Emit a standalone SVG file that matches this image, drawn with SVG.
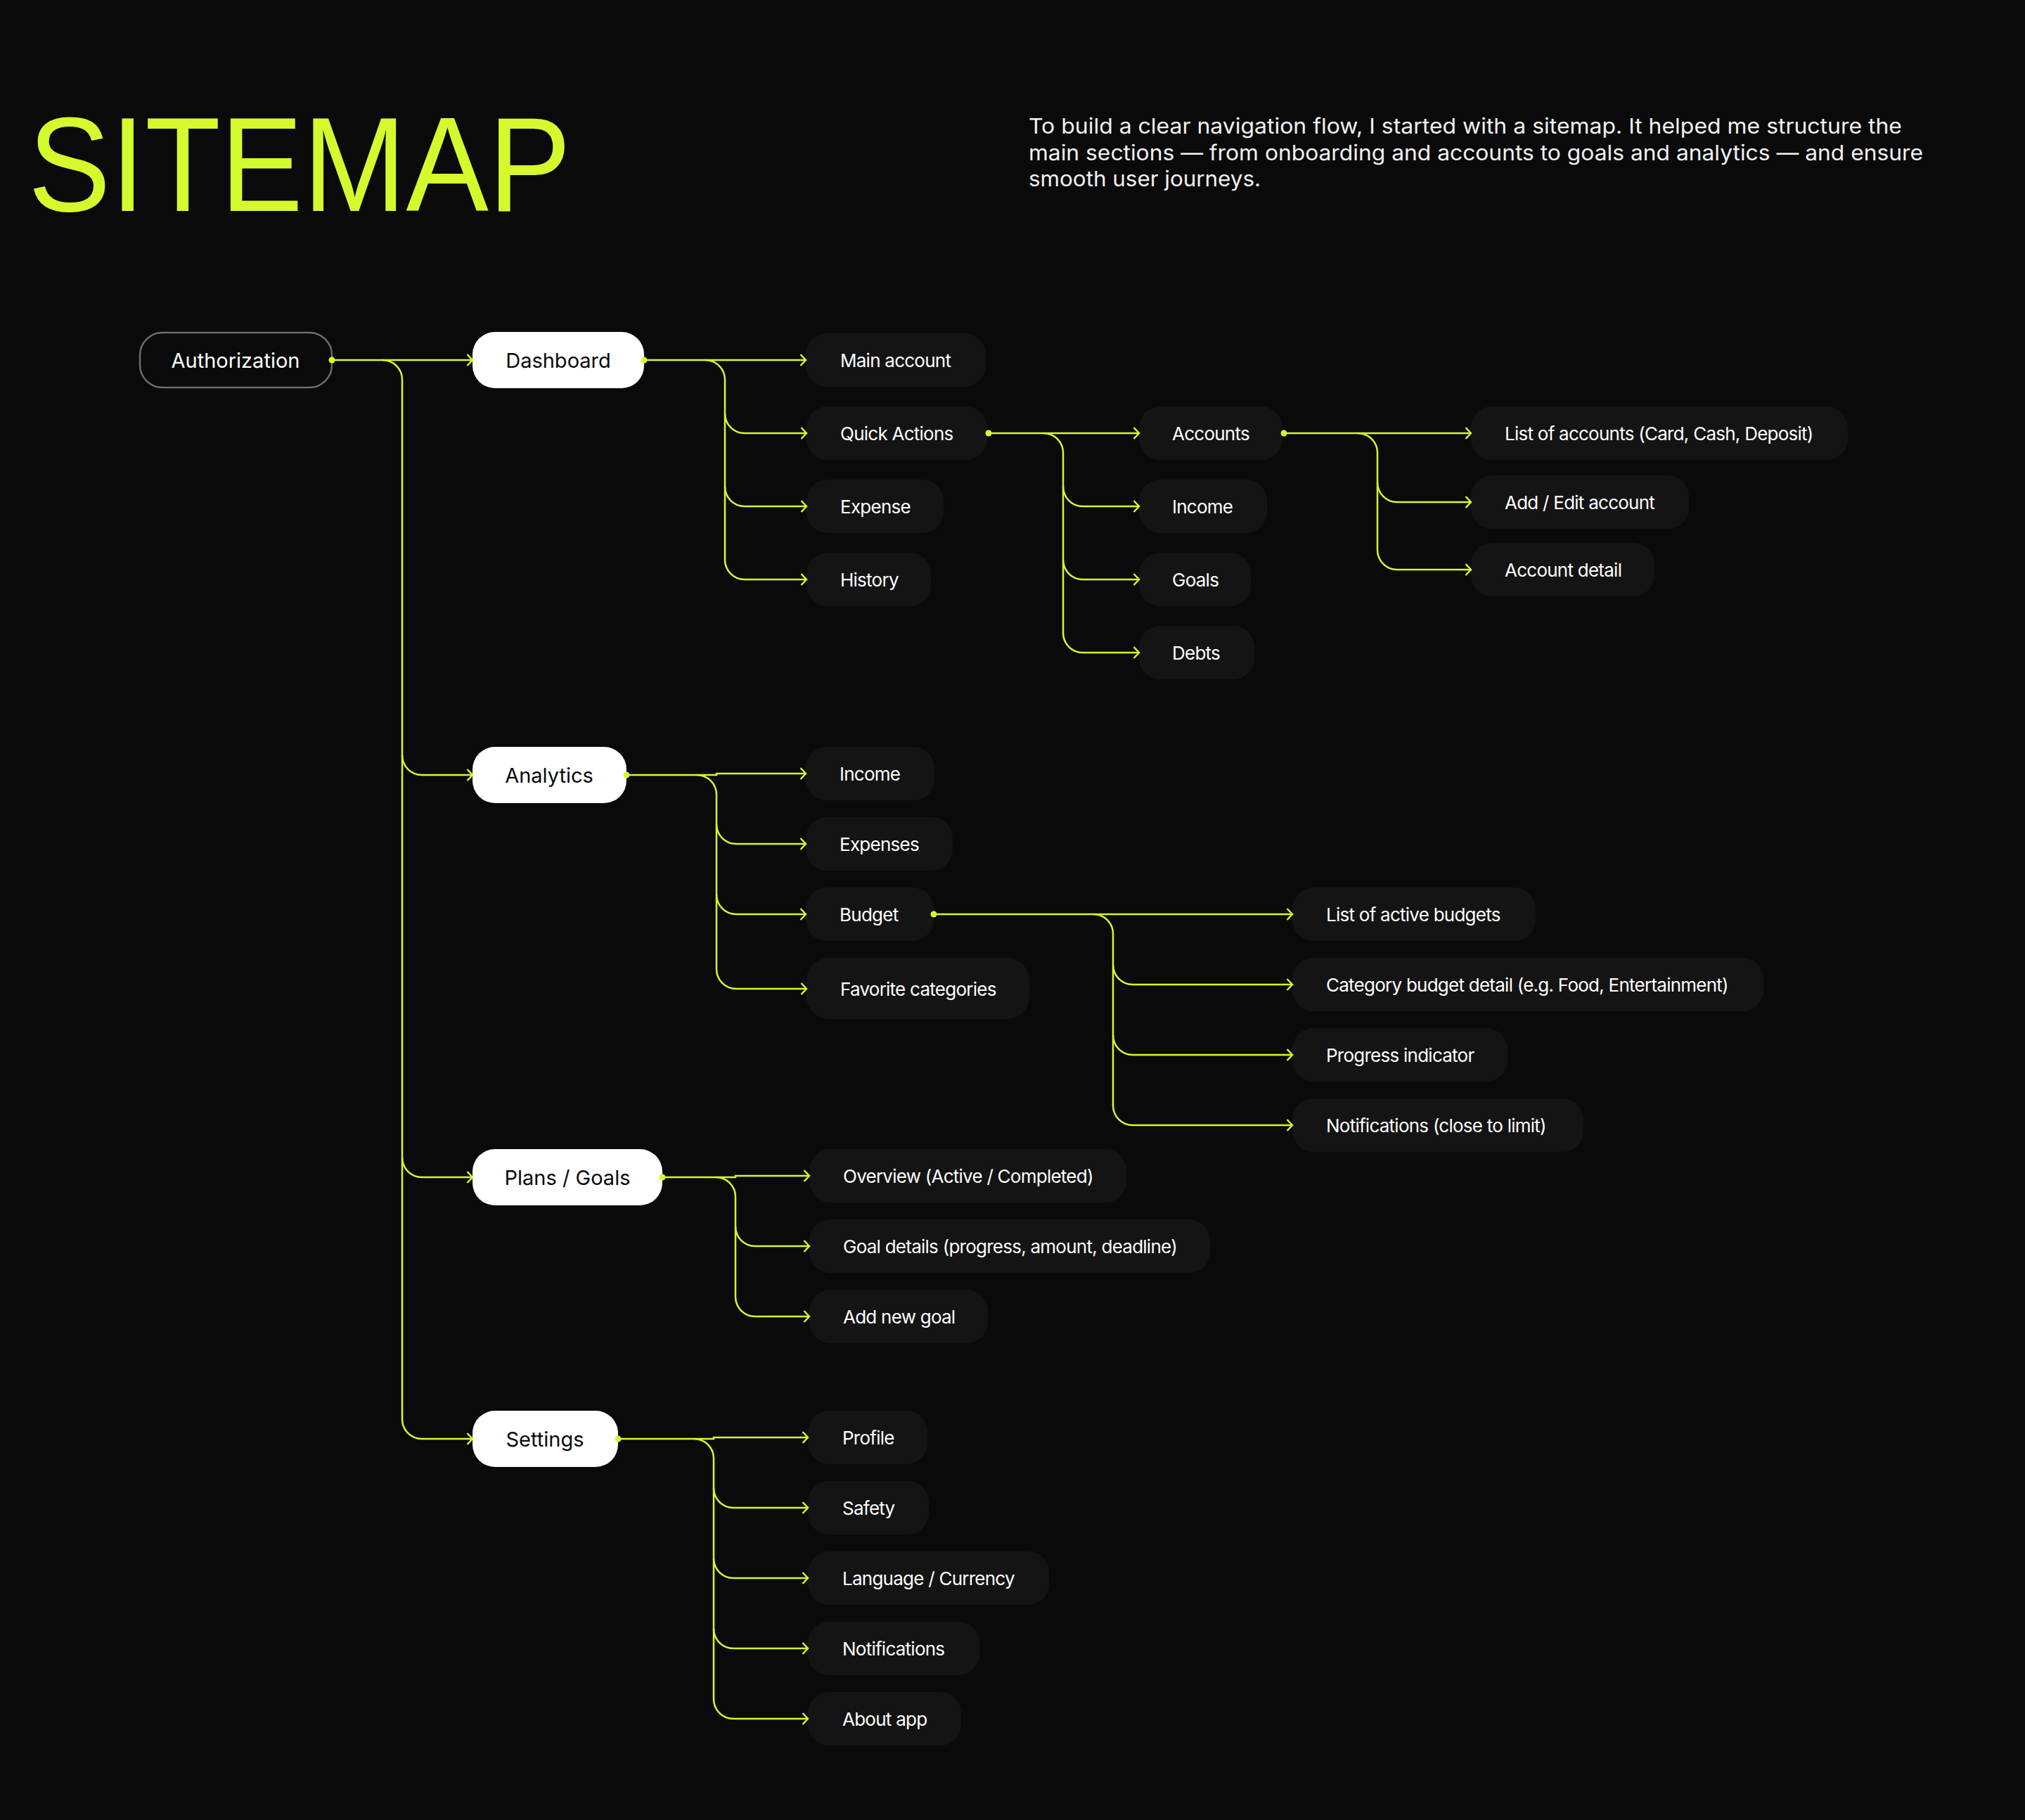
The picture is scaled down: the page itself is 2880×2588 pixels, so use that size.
<svg xmlns="http://www.w3.org/2000/svg" width="2880" height="2588" viewBox="0 0 2880 2588">
<defs>
<style>
.bg{fill:#0a0a0a}
.title{font-family:"Liberation Sans",Arial,sans-serif;font-size:192px;fill:#d4fa2d}
.desc{font-family:Inter,"Liberation Sans",sans-serif;font-size:30px;fill:#f2f2f2}
.main rect{fill:#ffffff}
.main text{font-family:Inter,"Liberation Sans",sans-serif;font-size:29px;fill:#0a0a0a;text-anchor:middle}
.auth rect{fill:none;stroke:#6c6c6c;stroke-width:2.5}
.auth text{font-family:Inter,"Liberation Sans",sans-serif;font-size:29px;fill:#ffffff;text-anchor:middle}
.child rect{fill:#141414}
.child text{font-family:Inter,"Liberation Sans",sans-serif;font-size:26px;fill:#ffffff;letter-spacing:-0.75px}
.conn path{fill:none;stroke:#d4fa2d;stroke-width:2.5}
.conn path.arr{marker-end:url(#arrow)}
.conn circle{fill:#d4fa2d}
</style>
<marker id="arrow" markerUnits="userSpaceOnUse" markerWidth="20" markerHeight="20" viewBox="0 0 20 20" refX="10" refY="10" orient="auto">
<path d="M2.5,2 L10,10 L2.5,18" fill="none" stroke="#d4fa2d" stroke-width="2.5"/>
</marker>
</defs>
<rect class="bg" x="0" y="0" width="2880" height="2588"/>

<text class="title" x="40" y="300" textLength="772" lengthAdjust="spacingAndGlyphs">SITEMAP</text>
<g id="description">
<text class="desc" x="1463" y="190" textLength="1242" lengthAdjust="spacingAndGlyphs">To build a clear navigation flow, I started with a sitemap. It helped me structure the</text>
<text class="desc" x="1463" y="228" textLength="1272" lengthAdjust="spacingAndGlyphs">main sections — from onboarding and accounts to goals and analytics — and ensure</text>
<text class="desc" x="1463" y="265" textLength="330" lengthAdjust="spacingAndGlyphs">smooth user journeys.</text>
</g>

<g id="node-authorization" class="auth"><rect x="199" y="473" width="273" height="78" rx="32"/><text x="335" y="523">Authorization</text></g>

<g id="node-dashboard" class="main"><rect x="672" y="472" width="244" height="80" rx="32"/><text x="794" y="523">Dashboard</text></g>
<g id="node-analytics" class="main"><rect x="672" y="1062" width="219" height="80" rx="32"/><text x="781" y="1113">Analytics</text></g>
<g id="node-plans" class="main"><rect x="672" y="1634" width="270" height="80" rx="32"/><text x="807" y="1685">Plans / Goals</text></g>
<g id="node-settings" class="main"><rect x="672" y="2006" width="207" height="80" rx="32"/><text x="775" y="2057">Settings</text></g>

<g id="node-main-account" class="child"><rect x="1146" y="474" width="256" height="76" rx="30"/><text x="1195" y="522">Main account</text></g>
<g id="node-quick-actions" class="child"><rect x="1147" y="578" width="257" height="76" rx="30"/><text x="1195" y="626">Quick Actions</text></g>
<g id="node-expense" class="child"><rect x="1147" y="682" width="195" height="76" rx="30"/><text x="1195" y="730">Expense</text></g>
<g id="node-history" class="child"><rect x="1147" y="786" width="177" height="76" rx="30"/><text x="1195" y="834">History</text></g>

<g id="node-accounts" class="child"><rect x="1620" y="578" width="204" height="76" rx="30"/><text x="1667" y="626">Accounts</text></g>
<g id="node-qa-income" class="child"><rect x="1620" y="682" width="182" height="76" rx="30"/><text x="1667" y="730">Income</text></g>
<g id="node-qa-goals" class="child"><rect x="1620" y="786" width="159" height="76" rx="30"/><text x="1667" y="834">Goals</text></g>
<g id="node-qa-debts" class="child"><rect x="1620" y="890" width="164" height="76" rx="30"/><text x="1667" y="938">Debts</text></g>

<g id="node-list-accounts" class="child"><rect x="2092" y="578" width="536" height="76" rx="30"/><text x="2140" y="626">List of accounts (Card, Cash, Deposit)</text></g>
<g id="node-add-edit-account" class="child"><rect x="2092" y="676" width="310" height="76" rx="30"/><text x="2140" y="724">Add / Edit account</text></g>
<g id="node-account-detail" class="child"><rect x="2092" y="772" width="261" height="76" rx="30"/><text x="2140" y="820">Account detail</text></g>

<g id="node-an-income" class="child"><rect x="1146" y="1062" width="183" height="76" rx="30"/><text x="1194" y="1110">Income</text></g>
<g id="node-an-expenses" class="child"><rect x="1146" y="1162" width="209" height="76" rx="30"/><text x="1194" y="1210">Expenses</text></g>
<g id="node-an-budget" class="child"><rect x="1146" y="1262" width="182" height="76" rx="30"/><text x="1194" y="1310">Budget</text></g>
<g id="node-an-favorite" class="child"><rect x="1147" y="1362" width="317" height="87" rx="32"/><text x="1195" y="1416">Favorite categories</text></g>

<g id="node-active-budgets" class="child"><rect x="1838" y="1262" width="346" height="76" rx="30"/><text x="1886" y="1310">List of active budgets</text></g>
<g id="node-category-budget" class="child"><rect x="1838" y="1362" width="670" height="76" rx="30"/><text x="1886" y="1410">Category budget detail (e.g. Food, Entertainment)</text></g>
<g id="node-progress" class="child"><rect x="1838" y="1462" width="306" height="76" rx="30"/><text x="1886" y="1510">Progress indicator</text></g>
<g id="node-budget-notifications" class="child"><rect x="1838" y="1562" width="414" height="76" rx="30"/><text x="1886" y="1610">Notifications (close to limit)</text></g>

<g id="node-overview" class="child"><rect x="1151" y="1634" width="451" height="76" rx="30"/><text x="1199" y="1682">Overview (Active / Completed)</text></g>
<g id="node-goal-details" class="child"><rect x="1151" y="1734" width="570" height="76" rx="30"/><text x="1199" y="1782">Goal details (progress, amount, deadline)</text></g>
<g id="node-add-goal" class="child"><rect x="1151" y="1834" width="254" height="76" rx="30"/><text x="1199" y="1882">Add new goal</text></g>

<g id="node-profile" class="child"><rect x="1149" y="2006" width="170" height="76" rx="30"/><text x="1198" y="2054">Profile</text></g>
<g id="node-safety" class="child"><rect x="1149" y="2106" width="172" height="76" rx="30"/><text x="1198" y="2154">Safety</text></g>
<g id="node-language" class="child"><rect x="1149" y="2206" width="343" height="76" rx="30"/><text x="1198" y="2254">Language / Currency</text></g>
<g id="node-notifications" class="child"><rect x="1149" y="2306" width="244" height="76" rx="30"/><text x="1198" y="2354">Notifications</text></g>
<g id="node-about" class="child"><rect x="1149" y="2406" width="218" height="76" rx="30"/><text x="1198" y="2454">About app</text></g>

<g id="connectors" class="conn">
<path class="arr" d="M472,512 H672"/>
<path class="arr" d="M544,512 A28,28 0 0 1 572,540 V2018 A28,28 0 0 0 600,2046 H672"/>
<path class="arr" d="M572,1074 A28,28 0 0 0 600,1102 H672"/>
<path class="arr" d="M572,1646 A28,28 0 0 0 600,1674 H672"/>

<path class="arr" d="M916,512 H1146"/>
<path class="arr" d="M1003,512 A28,28 0 0 1 1031,540 V796 A28,28 0 0 0 1059,824 H1147"/>
<path class="arr" d="M1031,588 A28,28 0 0 0 1059,616 H1147"/>
<path class="arr" d="M1031,692 A28,28 0 0 0 1059,720 H1147"/>

<path class="arr" d="M1406,616 H1620"/>
<path class="arr" d="M1484,616 A28,28 0 0 1 1512,644 V900 A28,28 0 0 0 1540,928 H1620"/>
<path class="arr" d="M1512,692 A28,28 0 0 0 1540,720 H1620"/>
<path class="arr" d="M1512,796 A28,28 0 0 0 1540,824 H1620"/>

<path class="arr" d="M1826,616 H2092"/>
<path class="arr" d="M1931,616 A28,28 0 0 1 1959,644 V782 A28,28 0 0 0 1987,810 H2092"/>
<path class="arr" d="M1959,686 A28,28 0 0 0 1987,714 H2092"/>

<path class="arr" d="M891,1102 H1019 V1100 H1146"/>
<path class="arr" d="M991,1102 A28,28 0 0 1 1019,1130 V1378 A28,28 0 0 0 1047,1406 H1147"/>
<path class="arr" d="M1019,1172 A28,28 0 0 0 1047,1200 H1146"/>
<path class="arr" d="M1019,1272 A28,28 0 0 0 1047,1300 H1146"/>

<path class="arr" d="M1328,1300 H1838"/>
<path class="arr" d="M1555,1300 A28,28 0 0 1 1583,1328 V1572 A28,28 0 0 0 1611,1600 H1838"/>
<path class="arr" d="M1583,1372 A28,28 0 0 0 1611,1400 H1838"/>
<path class="arr" d="M1583,1472 A28,28 0 0 0 1611,1500 H1838"/>

<path class="arr" d="M942,1674 H1046 V1672 H1151"/>
<path class="arr" d="M1018,1674 A28,28 0 0 1 1046,1702 V1844 A28,28 0 0 0 1074,1872 H1151"/>
<path class="arr" d="M1046,1744 A28,28 0 0 0 1074,1772 H1151"/>

<path class="arr" d="M879,2046 H1015 V2044 H1149"/>
<path class="arr" d="M987,2046 A28,28 0 0 1 1015,2074 V2416 A28,28 0 0 0 1043,2444 H1149"/>
<path class="arr" d="M1015,2116 A28,28 0 0 0 1043,2144 H1149"/>
<path class="arr" d="M1015,2216 A28,28 0 0 0 1043,2244 H1149"/>
<path class="arr" d="M1015,2316 A28,28 0 0 0 1043,2344 H1149"/>

<circle cx="472" cy="512" r="4.5"/>
<circle cx="916" cy="512" r="4.5"/>
<circle cx="1406" cy="616" r="4.5"/>
<circle cx="1826" cy="616" r="4.5"/>
<circle cx="891" cy="1102" r="4.5"/>
<circle cx="1328" cy="1300" r="4.5"/>
<circle cx="942" cy="1674" r="4.5"/>
<circle cx="879" cy="2046" r="4.5"/>
</g>
</svg>
